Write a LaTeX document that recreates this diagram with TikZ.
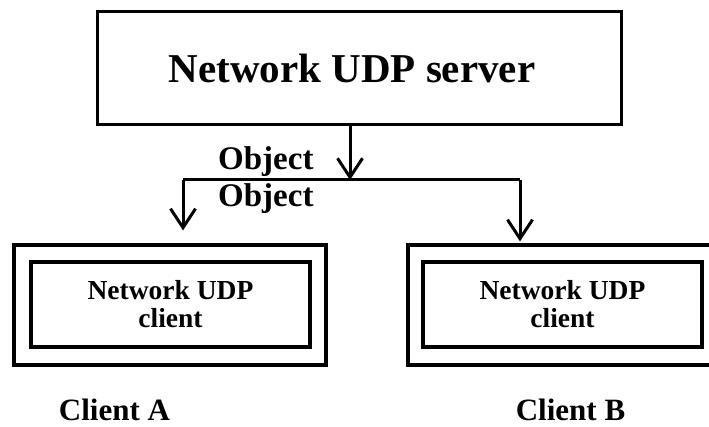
\documentclass[tikz,border=0pt]{standalone}
\usepackage{fontspec}
\setmainfont{Liberation Serif}
\usetikzlibrary{arrows.meta}

\tikzset{
  box/.style={draw=black, line width=3.2pt, rectangle, inner sep=0pt, align=center},
  wire/.style={draw=black, line width=3pt, line join=round},
  arr/.style={wire, -{Straight Barb[length=19pt, width=25pt]}},
  big/.style={font=\bfseries\fontsize{41}{41}\selectfont},
  mid/.style={font=\bfseries\fontsize{33}{33}\selectfont},
  small/.style={font=\bfseries\fontsize{27.5}{28}\selectfont},
}

\begin{document}
\begin{tikzpicture}[x=1pt, y=-1pt]
  \useasboundingbox (0,0) rectangle (709,427);
  \fill[white] (0,0) rectangle (709,427);

  % server
  \node[box, big, line width=3pt, minimum width=524pt, minimum height=113pt] (server) at (359,68.5) {\hspace*{-14pt}Network UDP server};

  % client A
  \node[box, minimum width=312pt, minimum height=120pt] (outerA) at (170,305) {};
  \node[box, small, minimum width=279pt, minimum height=85pt] (innerA) at (170.5,304.5) {Network UDP\\client};
  \node[mid, font=\bfseries\fontsize{31}{31}\selectfont, anchor=base] (nameA) at (114.5,420) {Client A};

  % client B
  \node[box, minimum width=304pt, minimum height=120pt] (outerB) at (560,305) {};
  \node[box, small, minimum width=279pt, minimum height=85pt] (innerB) at (562.5,304.5) {Network UDP\\client};
  \node[mid, font=\bfseries\fontsize{31}{31}\selectfont, anchor=base] (nameB) at (570.5,420) {Client B};

  % distribution bar
  \coordinate (jn) at (350,180);
  \coordinate (jl) at (183,180);
  \coordinate (jr) at (520,180);

  \draw[arr] (jn |- server.south) -- (jn);
  \draw[wire] (jl) -- (jr);
  \draw[arr, shorten >=13pt] (jl) -- (jl |- outerA.north);
  \draw[arr, shorten >=2pt] (jr) -- (jr |- outerB.north);

  % labels
  \node[mid, anchor=base west, inner sep=0pt] (obj1) at (218,170) {Object};
  \node[mid, anchor=base west, inner sep=0pt] (obj2) at (218,207) {Object};
\end{tikzpicture}
\end{document}
